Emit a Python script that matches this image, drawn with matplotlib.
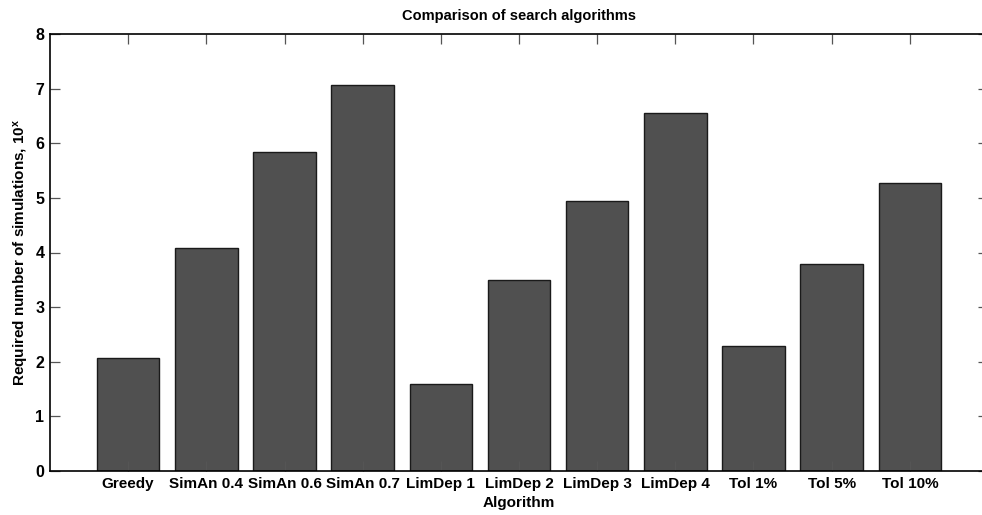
import matplotlib
matplotlib.use("Agg")
import matplotlib.pyplot as plt
import numpy as np

plt.rcParams['font.family'] = ['Liberation Sans', 'DejaVu Sans']
plt.rcParams['mathtext.fontset'] = 'custom'
plt.rcParams['mathtext.bf'] = 'Liberation Sans:bold'
plt.rcParams['mathtext.default'] = 'bf'

algorithms = ["Greedy", "SimAn 0.4", "SimAn 0.6", "SimAn 0.7", "LimDep 1",
              "LimDep 2", "LimDep 3", "LimDep 4", "Tol 1%", "Tol 5%", "Tol 10%"]
log_sims = [2.07, 4.08, 5.84, 7.06, 1.60, 3.50, 4.94, 6.56, 2.29, 3.79, 5.28]
y_ticks = [0, 1, 2, 3, 4, 5, 6, 7, 8]

fig = plt.figure(figsize=(9.82, 5.15), dpi=100)
# right edge of the axes lies just outside the picture, like the reference
ax = fig.add_axes([50 / 982, 44 / 515, 938 / 982, 437 / 515])

pos = np.arange(1, len(algorithms) + 1)
ax.bar(pos, log_sims, width=0.8, color="#505050", edgecolor="#1a1a1a", linewidth=1.0)

ax.set_xlim(0, 12)
ax.set_ylim(0, 8)
ax.set_xticks(pos)
ax.set_xticklabels(algorithms, fontsize=11, fontweight="bold")
ax.set_yticks(y_ticks)
ax.set_yticklabels([str(t) for t in y_ticks], fontsize=11.5, fontweight="bold")

ax.tick_params(axis="both", direction="in", length=7, width=0.9, color="#555555",
               top=True, right=True, pad=4)
for s in ax.spines.values():
    s.set_linewidth(1.2)

ax.set_title("Comparison of search algorithms", fontsize=10.5, fontweight="bold", pad=10)
ax.set_xlabel("Algorithm", fontsize=11, fontweight="bold", labelpad=4)
ax.set_ylabel("Required number of simulations, 10$^{x}$", fontsize=11, fontweight="bold",
              labelpad=3)

fig.savefig("out.png", dpi=100)
